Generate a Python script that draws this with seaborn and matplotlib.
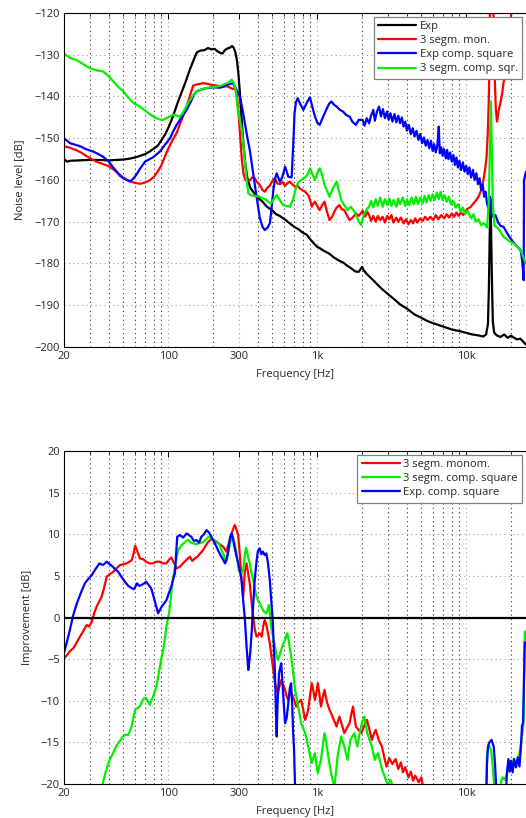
import numpy as np
import pandas as pd
import matplotlib
matplotlib.use("Agg")
import matplotlib.pyplot as plt
import matplotlib.ticker as mticker
import seaborn as sns

# ---- top panel: noise level [dB] ----
exp_f = [20, 21, 22, 25, 30, 35, 40, 45, 50, 55, 60, 65, 70, 75, 80, 85, 90, 95, 100, 105,
         110, 115, 120, 130, 140, 150, 156, 165, 175, 185, 195, 205, 215, 225, 232, 240, 250,
         260, 268, 275, 282, 290, 296, 302, 308, 315, 322, 330, 340, 355, 375, 400, 430, 460,
         500, 530, 560, 600, 650, 700, 750, 800, 850, 900, 950, 1000, 1050, 1100, 1200, 1300,
         1400, 1500, 1600, 1700, 1800, 1900, 1950, 2000, 2050, 2150, 2300, 2500, 2700, 3000,
         3300, 3600, 4000, 4500, 5000, 5500, 6000, 7000, 8000, 9000, 10000, 11000, 12000,
         13000, 13600, 14000, 14200, 14400, 14550, 14700, 14900, 15100, 15400, 16000, 17000,
         18000, 19000, 20000, 21000, 22000, 23000, 24000, 24800, 25200]
exp_db = [-155.0, -155.6, -155.4, -155.3, -155.2, -155.2, -155.3, -155.2, -155.1, -154.9,
          -154.6, -154.2, -153.8, -153.2, -152.5, -151.8, -150.5, -149.2, -147.6, -145.8,
          -143.8, -141.8, -140.0, -136.8, -133.5, -130.8, -129.4, -129.0, -128.9, -128.4,
          -128.7, -128.6, -129.2, -129.6, -129.7, -128.9, -128.5, -128.3, -127.9, -128.3,
          -129.3, -131.5, -134.5, -138.5, -143.0, -148.0, -152.5, -156.5, -159.5, -161.8,
          -163.0, -164.2, -165.2, -166.4, -167.3, -168.2, -168.6, -169.3, -170.3, -171.2,
          -171.8, -172.6, -173.1, -174.2, -175.2, -176.0, -176.4, -176.9, -177.6, -178.6,
          -179.3, -179.8, -180.6, -181.2, -181.9, -182.0, -181.4, -180.8, -181.6, -182.5,
          -183.5, -184.8, -186.0, -187.4, -188.6, -189.8, -190.8, -192.2, -193.0, -193.8,
          -194.3, -195.1, -195.8, -196.2, -196.6, -197.0, -197.2, -197.5, -197.0, -194.5,
          -186.0, -172.0, -164.5, -172.0, -185.0, -194.0, -196.5, -197.2, -197.6, -197.0,
          -197.8, -197.3, -197.8, -198.2, -198.0, -198.6, -199.2, -199.4]

mon_f = [20, 22, 24, 26, 28, 30, 33, 36, 40, 43, 46, 50, 55, 60, 65, 70, 75, 80, 85, 90, 97,
         105, 114, 123, 133, 140, 147, 155, 163, 171, 185, 200, 215, 230, 246, 260, 272, 282,
         290, 298, 305, 312, 320, 330, 340, 353, 365, 381, 395, 412, 430, 445, 460, 482, 500,
         521, 540, 563, 585, 609, 630, 654, 680, 711, 740, 764, 800, 830, 870, 900, 920, 945,
         966, 1000, 1040, 1080, 1120, 1160, 1210, 1260, 1305, 1350, 1410, 1460, 1520, 1580,
         1650, 1730, 1820, 1900, 2020, 2100, 2170, 2230, 2300, 2380, 2470, 2550, 2650, 2750,
         2850, 2950, 3050, 3150, 3250, 3400, 3500, 3650, 3800, 3950, 4100, 4250, 4400, 4550,
         4700, 4900, 5100, 5300, 5500, 5750, 6000, 6250, 6500, 6800, 7100, 7400, 7700, 8000,
         8300, 8600, 8900, 9200, 9600, 10100, 10700, 11200, 11700, 12100, 12600, 13000,
         13400, 13700, 13950, 14150, 14350, 14500, 14900, 15200, 15500, 15800, 16100, 16500,
         16900, 17400, 17800, 18500, 19300, 19800, 20300, 21000, 25200]
mon_db = [-151.9, -152.3, -152.8, -153.4, -154.2, -154.8, -155.6, -156.1, -156.7, -157.5,
          -158.4, -159.4, -160.3, -160.7, -160.9, -160.6, -160.1, -159.3, -158.0, -156.5,
          -153.6, -151.0, -148.7, -145.6, -142.4, -139.8, -137.4, -137.1, -137.0, -136.8,
          -137.0, -137.3, -137.4, -137.8, -137.5, -137.9, -138.2, -138.0, -140.0, -145.0,
          -150.0, -155.0, -158.5, -160.0, -160.3, -160.1, -159.4, -159.6, -160.5, -161.2,
          -162.4, -162.8, -162.0, -161.3, -160.2, -159.6, -160.8, -161.0, -160.5, -161.4,
          -160.8, -160.4, -161.0, -161.6, -161.4, -162.0, -162.5, -162.8, -163.6, -165.0,
          -166.4, -165.6, -165.2, -166.2, -167.2, -166.0, -165.2, -167.4, -169.6, -168.8,
          -167.6, -166.6, -166.0, -167.0, -167.2, -168.4, -169.6, -169.0, -168.0, -168.6,
          -167.4, -168.8, -167.6, -168.4, -169.8, -168.6, -170.0, -168.6, -169.6, -168.8,
          -170.2, -168.6, -169.4, -168.4, -170.2, -169.0, -170.0, -169.0, -170.4, -169.4,
          -170.6, -169.6, -170.4, -169.2, -170.2, -169.2, -169.8, -168.8, -169.6, -168.8,
          -169.6, -168.4, -169.4, -168.4, -169.2, -168.2, -169.0, -168.0, -168.8, -167.8,
          -168.6, -167.8, -168.4, -167.0, -166.5, -165.6, -164.8, -164.0, -162.5, -160.4,
          -157.5, -154.5, -149.0, -142.0, -132.0, -110.0, -108.0, -118.0, -134.0, -143.0,
          -146.0, -143.5, -141.8, -139.5, -136.8, -133.0, -129.4, -125.0, -115.0, -108.0,
          -105.0]

sq_f = [20, 21, 22, 24, 26, 28, 31.5, 34, 36.5, 40, 42.3, 45, 47.5, 50, 52.6, 55.4, 58, 61,
        65, 70, 75, 79, 84, 88, 95, 103, 108, 114, 123, 133, 143, 150, 155, 165, 181, 200, 223,
        240, 260, 272, 282, 292, 303, 315, 327, 340, 353, 372, 392, 412, 430, 445, 465, 482,
        495, 508, 522, 535, 548, 563, 585, 609, 625, 640, 674, 690, 705, 720, 740, 770, 808,
        850, 880, 895, 930, 966, 1000, 1040, 1080, 1150, 1200, 1245, 1300, 1350, 1420, 1490,
        1560, 1650, 1720, 1820, 1900, 2020, 2080, 2150, 2230, 2300, 2380, 2440, 2520, 2600,
        2680, 2760, 2850, 2940, 3020, 3100, 3200, 3300, 3400, 3500, 3600, 3700, 3800, 3900,
        4000, 4120, 4250, 4380, 4500, 4640, 4780, 4920, 5060, 5200, 5350, 5500, 5650, 5800,
        5950, 6100, 6250, 6400, 6550, 6650, 6800, 6950, 7100, 7300, 7450, 7600, 7800, 8000,
        8200, 8400, 8600, 8800, 9000, 9250, 9500, 9750, 10000, 10250, 10500, 10800, 11100,
        11400, 11700, 12000, 12300, 12600, 12900, 13200, 13500, 13800, 14100, 14500, 14800,
        15200, 15700, 16400, 17000, 17800, 18600, 19500, 20800, 22000, 23200, 23800, 24300,
        24450, 25200]
sq_db = [-150.0, -150.6, -151.2, -151.6, -152.0, -152.6, -153.2, -153.8, -154.4, -155.6,
         -156.8, -157.9, -159.0, -159.6, -160.0, -160.3, -159.8, -158.8, -157.2, -155.6,
         -155.0, -154.6, -153.8, -153.2, -151.6, -150.0, -148.4, -146.8, -145.0, -143.2,
         -141.0, -139.4, -138.8, -138.4, -138.0, -137.8, -137.9, -137.4, -137.0, -136.8,
         -137.8, -138.8, -140.0, -143.0, -146.4, -149.8, -152.8, -158.4, -164.0, -169.1,
         -171.2, -172.0, -171.4, -170.3, -166.5, -162.4, -159.6, -158.4, -159.4, -160.4,
         -159.2, -156.8, -158.0, -159.2, -159.4, -152.0, -144.0, -141.4, -140.4, -141.8,
         -143.2, -141.6, -140.6, -140.2, -142.6, -144.8, -146.2, -146.8, -145.4, -143.2,
         -141.8, -141.2, -142.0, -142.4, -143.2, -143.6, -144.4, -144.8, -146.0, -146.8,
         -145.6, -145.6, -147.0, -145.2, -146.4, -144.6, -143.2, -145.8, -143.6, -142.4,
         -144.8, -143.0, -145.2, -143.6, -145.6, -144.0, -146.0, -144.2, -146.2, -144.6,
         -146.4, -145.0, -147.2, -146.0, -148.2, -146.8, -149.0, -147.6, -149.6, -148.2,
         -150.4, -149.0, -151.2, -149.8, -151.8, -150.4, -152.4, -150.6, -153.0, -151.4,
         -153.4, -151.8, -147.2, -153.6, -152.2, -154.2, -152.6, -154.8, -152.8, -155.0,
         -153.4, -155.6, -154.0, -156.4, -154.6, -157.0, -155.4, -157.6, -155.8, -158.0,
         -156.6, -158.6, -157.0, -159.4, -157.6, -160.0, -158.4, -161.0, -159.6, -162.4,
         -161.0, -164.0, -162.8, -165.6, -166.8, -164.0, -168.2, -168.8, -168.4, -170.2,
         -171.0, -171.2, -172.4, -173.6, -175.0, -176.0, -176.8, -179.5, -184.0, -160.0,
         -158.0]

sqr_f = [20, 22, 24.4, 27, 29.8, 33, 36.6, 40, 42.9, 46, 50, 54, 57, 60, 64.5, 69, 73.7, 78,
         83, 88, 92.7, 97, 103, 107, 111, 116, 120, 125, 129, 138, 148, 156, 164, 178, 191,
         205, 223, 240, 254, 267, 276, 284, 293, 302, 311, 320, 327, 335, 345, 358, 372, 392,
         412, 435, 456, 475, 491, 510, 535, 560, 591, 620, 654, 690, 723, 750, 780, 843, 870,
         895, 930, 966, 1000, 1040, 1080, 1120, 1160, 1210, 1260, 1350, 1400, 1450, 1520,
         1600, 1680, 1780, 1860, 1970, 2050, 2150, 2230, 2300, 2380, 2470, 2550, 2650, 2750,
         2850, 2950, 3050, 3150, 3250, 3400, 3500, 3600, 3750, 3900, 4000, 4150, 4300, 4450,
         4600, 4750, 4920, 5100, 5250, 5400, 5600, 5760, 5950, 6150, 6350, 6550, 6740, 6950,
         7150, 7400, 7650, 7900, 8200, 8500, 8800, 9200, 9500, 9800, 10200, 10800, 11200,
         11600, 12100, 12600, 13200, 13800, 14200, 14450, 14650, 14850, 15100, 15500, 16000,
         17000, 17800, 18800, 19800, 20800, 22000, 23200, 24000, 24800, 25200]
sqr_db = [-129.7, -130.8, -131.3, -132.3, -133.2, -133.7, -134.0, -135.2, -136.4, -137.6,
          -138.8, -140.2, -141.2, -141.8, -142.4, -143.2, -144.0, -144.6, -145.2, -145.5,
          -145.6, -145.2, -144.8, -144.4, -144.4, -144.7, -144.8, -144.0, -143.2, -141.2,
          -139.6, -138.7, -138.4, -138.0, -137.8, -137.7, -137.5, -137.0, -136.7, -136.0,
          -136.8, -138.5, -143.0, -145.5, -147.5, -151.5, -155.2, -159.5, -163.2, -163.6,
          -163.8, -163.9, -164.0, -164.4, -164.8, -165.4, -165.6, -164.6, -163.6, -164.8,
          -166.0, -166.2, -166.4, -164.6, -161.6, -160.5, -160.0, -159.2, -158.4, -157.2,
          -158.6, -160.0, -158.4, -157.2, -158.8, -161.2, -162.4, -164.0, -162.4, -160.4,
          -162.6, -164.8, -166.0, -167.2, -166.4, -167.6, -169.2, -170.8, -168.4, -167.0,
          -166.4, -165.0, -166.6, -164.6, -166.2, -164.2, -166.4, -164.6, -166.0, -164.4,
          -166.2, -164.8, -166.4, -164.4, -165.8, -164.2, -166.2, -164.6, -166.0, -164.2,
          -165.8, -164.0, -165.8, -164.2, -165.6, -163.8, -165.4, -163.6, -165.0, -163.4,
          -164.8, -163.0, -164.6, -162.8, -164.8, -163.6, -165.2, -164.0, -165.8, -165.0,
          -166.6, -165.8, -167.6, -166.6, -168.2, -167.4, -169.2, -168.2, -170.0, -169.4,
          -170.8, -170.4, -171.4, -165.0, -150.0, -141.2, -152.0, -166.0, -171.0, -171.2,
          -172.4, -173.6, -174.2, -174.8, -175.2, -176.0, -176.8, -178.2, -179.4, -180.0]

# ---- bottom panel: improvement [dB] ----
imp_mon_f = [20, 21, 22, 23.1, 24.3, 25.6, 27, 28.4, 29.5, 30.7, 32, 33.1, 34.4, 35.8, 37.2,
             38.7, 40.5, 42.9, 45, 47.5, 50, 52.6, 55, 57, 58.5, 60, 61.5, 64.5, 68, 71.3, 75,
             79, 83, 88, 92, 97, 101, 105, 109, 114, 120, 124, 129, 134, 140, 145, 151, 157,
             164, 170, 177, 184, 191, 200, 211, 222, 234, 246, 256, 267, 275, 280, 287, 295,
             303, 311, 319, 327, 336, 345, 353, 362, 372, 382, 392, 412, 425, 435, 445, 456,
             468, 480, 491, 505, 521, 532, 544, 558, 574, 590, 609, 625, 640, 656, 674, 698,
             723, 750, 780, 805, 830, 850, 870, 895, 920, 943, 966, 988, 1010, 1035, 1060,
             1090, 1120, 1145, 1170, 1205, 1240, 1295, 1350, 1380, 1410, 1460, 1520, 1580,
             1650, 1700, 1740, 1780, 1820, 1900, 1980, 2070, 2160, 2250, 2330, 2400, 2470,
             2600, 2720, 2820, 2920, 3050, 3200, 3360, 3500, 3650, 3760, 3900, 4100, 4250,
             4400, 4550, 4800, 5000, 5150, 5300, 25200]
imp_mon_db = [-4.9, -4.5, -4.0, -3.7, -3.0, -2.3, -1.6, -0.9, -1.1, -0.5, 0.6, 1.3, 1.9, 2.5,
              3.6, 4.9, 5.2, 5.5, 5.9, 6.3, 6.4, 6.5, 6.7, 6.9, 7.6, 8.6, 8.2, 7.1, 7.0, 6.7,
              6.5, 6.5, 6.7, 6.7, 6.5, 6.5, 6.9, 7.2, 6.6, 5.9, 6.1, 6.4, 6.7, 7.0, 7.3, 6.8,
              7.1, 7.3, 7.7, 8.0, 8.5, 9.0, 9.3, 9.4, 9.1, 8.8, 8.5, 7.9, 9.0, 10.1, 10.8,
              11.1, 10.6, 9.9, 7.4, 4.5, 2.5, 5.5, 6.5, 5.2, 4.1, 2.0, 0.1, -1.5, -2.3, -1.9,
              -2.3, -1.0, -0.3, -0.9, -1.9, -3.0, -4.3, -6.0, -7.9, -8.6, -9.1, -8.3, -7.5,
              -8.0, -8.7, -9.5, -9.9, -9.2, -9.1, -9.8, -10.7, -10.2, -9.9, -11.0, -12.3,
              -11.8, -11.1, -9.4, -7.9, -8.8, -9.9, -9.0, -7.9, -9.2, -10.7, -9.6, -8.7, -9.6,
              -10.3, -11.0, -11.5, -12.3, -13.1, -12.4, -11.9, -12.8, -13.9, -13.3, -12.7,
              -11.5, -10.7, -12.0, -13.1, -13.5, -13.9, -13.0, -12.3, -13.6, -14.7, -14.0,
              -13.5, -14.8, -15.5, -16.8, -17.9, -16.9, -17.6, -17.0, -18.2, -17.4, -18.6,
              -18.0, -19.2, -18.5, -19.6, -19.0, -19.8, -19.2, -20.5, -23.0, -23.0]

imp_sqr_f = [34, 36.6, 38, 39.6, 41, 42.9, 45, 47.5, 49.5, 51.2, 54, 55.5, 57, 58.5, 60, 62,
             64.5, 66.5, 68.7, 71.3, 73, 75.5, 77, 79.3, 81, 83.4, 85.5, 88, 90, 92.7, 95,
             97.4, 99.5, 101.5, 103.5, 105.4, 108, 111, 114, 117, 122, 127, 132, 137, 142,
             148, 154, 160, 166, 173, 180, 187, 194, 202, 210, 219, 228, 236, 242, 246, 253,
             260, 266, 272, 280, 286, 293, 298, 303, 311, 319, 327, 333, 340, 347, 353, 362,
             372, 382, 392, 402, 412, 422, 433, 445, 456, 466, 475, 483, 491, 505, 521, 532,
             544, 558, 574, 590, 609, 620, 631, 642, 654, 668, 683, 697, 711, 727, 744, 762,
             780, 805, 830, 850, 870, 895, 920, 943, 966, 988, 1010, 1035, 1060, 1090, 1120,
             1145, 1170, 1205, 1240, 1270, 1305, 1340, 1370, 1410, 1450, 1485, 1520, 1560,
             1600, 1635, 1670, 1720, 1780, 1820, 1860, 1910, 1970, 2020, 2070, 2120, 2170,
             2250, 2330, 2380, 2440, 2500, 2560, 2650, 2730, 2850, 2990, 3100, 3250, 3400,
             13600, 13800, 14000, 14300, 14700, 15000, 15300, 15600, 16800, 17200, 17600,
             18200, 18700, 19300, 19800, 20300, 20800, 21400, 22000, 22700, 23300, 23800,
             24200, 24500, 24750, 25200]
imp_sqr_db = [-22.0, -19.8, -18.6, -17.6, -16.9, -16.2, -15.4, -14.8, -14.3, -14.1, -14.1,
              -13.6, -13.0, -12.0, -11.1, -10.9, -10.7, -10.2, -9.7, -9.7, -10.1, -10.5,
              -10.0, -9.5, -9.0, -8.3, -7.2, -5.9, -4.9, -3.9, -2.5, -1.1, -0.2, 0.5, 1.8,
              3.3, 4.7, 6.1, 7.2, 8.1, 8.6, 8.9, 9.2, 9.3, 9.0, 8.9, 8.8, 8.9, 9.0, 9.1, 9.4,
              9.7, 9.5, 9.3, 9.0, 8.9, 8.1, 7.5, 6.9, 6.7, 7.8, 8.9, 9.4, 9.7, 8.9, 8.0, 6.6,
              5.6, 5.5, 5.3, 5.7, 7.5, 8.4, 7.8, 7.0, 6.5, 5.4, 4.5, 3.4, 2.5, 2.0, 1.7, 1.3,
              0.9, 0.6, 0.5, 1.0, 1.5, 0.3, -1.1, -2.3, -3.5, -4.4, -5.1, -4.6, -3.9, -3.2,
              -2.7, -2.2, -1.9, -2.6, -3.5, -4.6, -5.9, -7.3, -8.7, -9.6, -10.7, -11.6, -12.7,
              -13.3, -13.9, -14.6, -15.5, -16.6, -17.5, -16.8, -16.3, -17.6, -18.7, -17.8,
              -17.1, -15.4, -13.9, -14.8, -15.9, -17.4, -18.7, -19.5, -20.3, -18.5, -16.7,
              -15.4, -14.3, -14.9, -15.5, -16.3, -17.1, -15.8, -14.7, -14.3, -13.9, -14.8,
              -15.5, -14.3, -13.1, -12.4, -11.9, -12.9, -13.9, -14.7, -15.5, -16.3, -17.1,
              -16.6, -16.3, -17.4, -18.3, -19.2, -20.2, -19.5, -20.5, -22.0, -22.0, -16.5,
              -15.8, -15.4, -16.0, -17.5, -19.4, -21.0, -21.0, -19.6, -19.2, -19.5, -18.8,
              -18.2, -17.5, -18.3, -17.0, -17.8, -17.2, -16.5, -15.2, -14.0, -13.0, -7.0,
              -1.7, -1.7]

imp_sq_f = [20, 21, 21.9, 23, 24.4, 26, 27.6, 29, 30.7, 32.5, 34.6, 36.5, 38.7, 40.5, 42, 44,
            46.2, 48.5, 51.2, 54, 57.1, 59, 61.9, 64, 66.4, 69, 71.3, 74, 77, 79, 81, 83.5,
            85.6, 88, 90.4, 94, 97.5, 101, 105, 108, 111, 113, 115, 120, 126, 133, 138, 143,
            149, 155, 161, 167, 174, 181, 188, 195, 203, 211, 220, 228, 235, 241, 248, 254,
            260, 267, 274, 280, 287, 295, 303, 311, 319, 327, 336, 345, 352, 357, 363, 372,
            381, 392, 400, 412, 422, 433, 445, 456, 468, 481, 492, 503, 512, 521, 528, 535,
            543, 555, 565, 574, 590, 609, 625, 640, 655, 668, 680, 690, 700, 711, 730, 13500,
            13800, 14000, 14300, 14800, 15300, 15600, 15800, 16000, 18500, 18800, 19200,
            19600, 20000, 20500, 21000, 21600, 22200, 22800, 23300, 23700, 24100, 24400,
            24700, 25200]
imp_sq_db = [-4.3, -2.8, -1.5, 0.2, 1.7, 3.0, 4.1, 4.6, 5.1, 5.8, 6.5, 6.3, 6.7, 6.4, 6.2,
             5.8, 5.5, 4.9, 4.3, 3.8, 3.5, 3.4, 4.1, 3.8, 3.9, 4.1, 4.3, 3.9, 3.5, 2.8, 2.1,
             1.2, 0.5, 0.9, 1.3, 1.7, 2.1, 2.9, 3.7, 4.6, 5.3, 7.5, 9.7, 9.9, 9.6, 10.1, 9.9,
             9.7, 9.2, 9.3, 9.0, 9.7, 10.0, 10.5, 10.2, 9.7, 9.1, 8.5, 7.8, 7.3, 6.9, 6.5,
             7.2, 8.1, 9.6, 10.1, 9.2, 8.3, 7.4, 6.6, 5.5, 4.5, 2.0, -0.1, -3.5, -6.3, -5.0,
             -3.8, -1.9, 1.5, 4.5, 6.8, 8.0, 8.3, 7.6, 7.9, 7.5, 7.7, 6.5, 4.5, 2.0, -0.3,
             -3.5, -6.7, -11.0, -14.3, -10.0, -6.7, -6.0, -5.5, -9.0, -12.7, -12.0, -10.3,
             -8.5, -7.9, -10.5, -13.9, -16.0, -20.5, -25.0, -25.0, -17.5, -15.5, -15.0,
             -14.7, -15.5, -17.5, -19.4, -21.0, -21.0, -18.5, -17.0, -18.5, -17.2, -18.6,
             -17.0, -18.0, -16.8, -17.9, -15.5, -13.0, -12.6, -8.0, -3.0, -3.0]

FREQ_TICKS = [20, 100, 300, 1000, 10000]
FREQ_LABELS = ["20", "100", "300", "1k", "10k"]
NOISE_TICKS = list(range(-200, -119, 10))
IMP_TICKS = list(range(-20, 21, 5))

sns.set_style("white")
plt.rcParams["font.family"] = ["Open Sans", "DejaVu Sans"]
plt.rcParams["axes.unicode_minus"] = True

W, H = 526, 818
fig = plt.figure(figsize=(W / 100, H / 100), dpi=100)
ax1 = fig.add_axes([64 / W, 1 - 347 / H, (W - 64) / W, 334 / H])
ax2 = fig.add_axes([64 / W, 1 - 784 / H, (W - 64) / W, 333 / H])

lw = 1.6
GREEN = "#00f000"
top_series = [
    (exp_f, exp_db, "k", "Exp"),
    (mon_f, mon_db, "#ff0000", "3 segm. mon."),
    (sq_f, sq_db, "#0000ff", "Exp comp. square"),
    (sqr_f, sqr_db, GREEN, "3 segm. comp. sqr."),
]
for f, db, c, lab in top_series:
    df = pd.DataFrame({"freq": f, "db": db})
    sns.lineplot(data=df, x="freq", y="db", ax=ax1, color=c, linewidth=lw,
                 label=lab, estimator=None, sort=False)

bottom_series = [
    (imp_mon_f, imp_mon_db, "#ff0000", "3 segm. monom."),
    (imp_sqr_f, imp_sqr_db, GREEN, "3 segm. comp. square"),
    (imp_sq_f, imp_sq_db, "#0000ff", "Exp. comp. square"),
]
for f, db, c, lab in bottom_series:
    df = pd.DataFrame({"freq": f, "db": db})
    sns.lineplot(data=df, x="freq", y="db", ax=ax2, color=c, linewidth=lw,
                 label=lab, estimator=None, sort=False)
ax2.axhline(0, color="k", linewidth=lw, zorder=5)


def style_axes(ax, ylim, yticks, ylabel, ylab_x):
    ax.set_xscale("log")
    ax.set_xlim(20, 25200)
    ax.set_ylim(*ylim)
    ax.set_xticks(FREQ_TICKS)
    ax.set_xticklabels(FREQ_LABELS)
    ax.xaxis.set_minor_locator(mticker.LogLocator(base=10, subs=np.arange(2, 10)))
    ax.xaxis.set_minor_formatter(mticker.NullFormatter())
    ax.set_yticks(yticks)
    ax.set_yticklabels([f"{v}".replace("-", "\u2212") for v in yticks])
    ax.tick_params(axis="both", which="major", direction="in", length=4, width=0.7,
                   labelsize=8, pad=3, top=True, right=False, color="k")
    ax.tick_params(axis="x", which="minor", direction="in", length=2.5, width=0.6,
                   top=True, color="k")
    ax.grid(True, which="major", axis="both", color="#a0a0a0", linestyle=(0, (1, 3)),
            linewidth=0.8)
    ax.grid(True, which="minor", axis="x", color="#303030", linestyle=(0, (1, 3)),
            linewidth=0.8)
    for side in ["left", "bottom", "top"]:
        ax.spines[side].set_color("k")
        ax.spines[side].set_linewidth(0.8)
    ax.spines["right"].set_visible(False)
    ax.set_xlabel("Frequency [Hz]", fontsize=8)
    ax.set_ylabel(ylabel, fontsize=8)
    ax.xaxis.set_label_coords(0.5, -0.065)
    ax.yaxis.set_label_coords(ylab_x, 0.5)
    leg = ax.legend(loc="upper right", fontsize=8, frameon=True, fancybox=False,
                    framealpha=1, edgecolor="#808080", handlelength=3.4,
                    borderaxespad=0.33, borderpad=0.4, labelspacing=0.28,
                    handletextpad=0.35)
    leg.get_frame().set_linewidth(0.9)
    for line in leg.get_lines():
        line.set_linewidth(lw)


style_axes(ax1, (-200, -120), NOISE_TICKS, "Noise level [dB]", -0.085)
style_axes(ax2, (-20, 20), IMP_TICKS, "Improvement [dB]", -0.068)

fig.savefig("out.png", dpi=100)
